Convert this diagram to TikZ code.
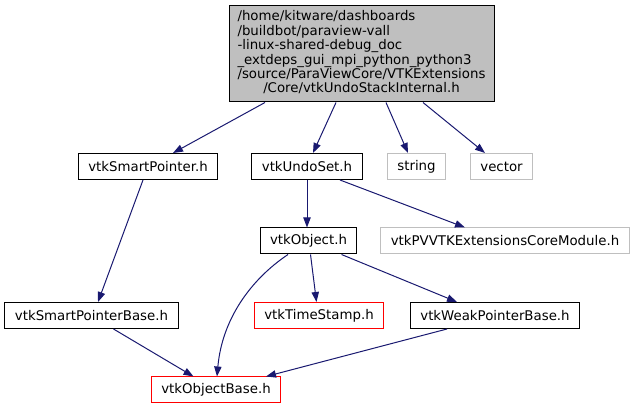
\documentclass[tikz,border=0pt]{standalone}
\usepackage{fontspec}
\setmainfont{DejaVu Sans}
\usetikzlibrary{arrows.meta,calc}
\definecolor{edgeblue}{HTML}{191970}
\definecolor{lgray}{HTML}{BFBFBF}
\begin{document}
\begin{tikzpicture}[x=0.75pt,y=-0.75pt,
  box/.style={draw=black,line width=0.75pt,inner xsep=7.5pt,inner ysep=0pt,
    minimum height=19.5pt,font=\fontsize{10}{12}\selectfont,fill=white},
  graybox/.style={box,draw=lgray},
  redbox/.style={box,draw=red},
  edge/.style={draw=edgeblue,line width=0.75pt,-{Triangle[length=7.5pt,width=5.5pt]}}]
\useasboundingbox (0,0) rectangle (632,409);

\node[box,fill=lgray,minimum width=198.75pt,minimum height=72pt,inner xsep=0pt] (top) at (361.5,54)
  {\fontsize{10}{10.65}\selectfont\begin{tabular}{@{}l@{}}
  /home/kitware/dashboards\\
  /buildbot/paraview-vall\\
  -linux-shared-debug\_doc\\
  \_extdeps\_gui\_mpi\_python\_python3\\
  /source/ParaViewCore/VTKExtensions\\
  \multicolumn{1}{@{}c@{}}{/Core/vtkUndoStackInternal.h}
  \end{tabular}};

\node[box] (smart) at (148,166.5) {vtkSmartPointer.h};
\node[box] (undo) at (307,166.5) {vtkUndoSet.h};
\node[graybox] (string) at (416.5,166.5) {string};
\node[graybox] (vector) at (501.5,166.5) {vector};
\node[box] (obj) at (308.5,241) {vtkObject.h};
\node[graybox] (pv) at (505,241) {vtkPVVTKExtensionsCoreModule.h};
\node[box] (spb) at (91.5,315.5) {vtkSmartPointerBase.h};
\node[redbox] (ts) at (319,315.5) {vtkTimeStamp.h};
\node[box] (wpb) at (495,315.5) {vtkWeakPointerBase.h};
\node[redbox] (ob) at (216,390) {vtkObjectBase.h};

\draw[edge] ($(top.south)+(-96.5,0)$) -- ($(smart.north)+(25,0)$);
\draw[edge] ($(top.south)+(-25.5,0)$) -- ($(undo.north)+(6,0)$);
\draw[edge] ($(top.south)+(24.5,0)$) -- ($(string.north)+(-8.5,0)$);
\draw[edge] ($(top.south)+(61.5,0)$) -- ($(vector.north)+(-16.5,0)$);
\draw[edge] ($(smart.south)+(-5,0)$) -- ($(spb.north)+(6.5,0)$);
\draw[edge] (undo.south) -- ($(obj.north)+(-1.5,0)$);
\draw[edge] ($(undo.south)+(33,0)$) -- ($(pv.north)+(-40,0)$);
\draw[edge] ($(obj.south)+(-20.5,0)$) .. controls (250,280) and (222,320) .. ($(ob.north)+(1,0)$);
\draw[edge] ($(obj.south)+(2,0)$) -- ($(ts.north)+(-2.5,0)$);
\draw[edge] ($(obj.south)+(33,0)$) -- ($(wpb.north)+(-38,0)$);
\draw[edge] ($(spb.south)+(22,0)$) -- ($(ob.north)+(-22.5,0)$);
\draw[edge] ($(wpb.south)+(-48,0)$) -- ($(ob.north)+(50,0)$);
\end{tikzpicture}
\end{document}
